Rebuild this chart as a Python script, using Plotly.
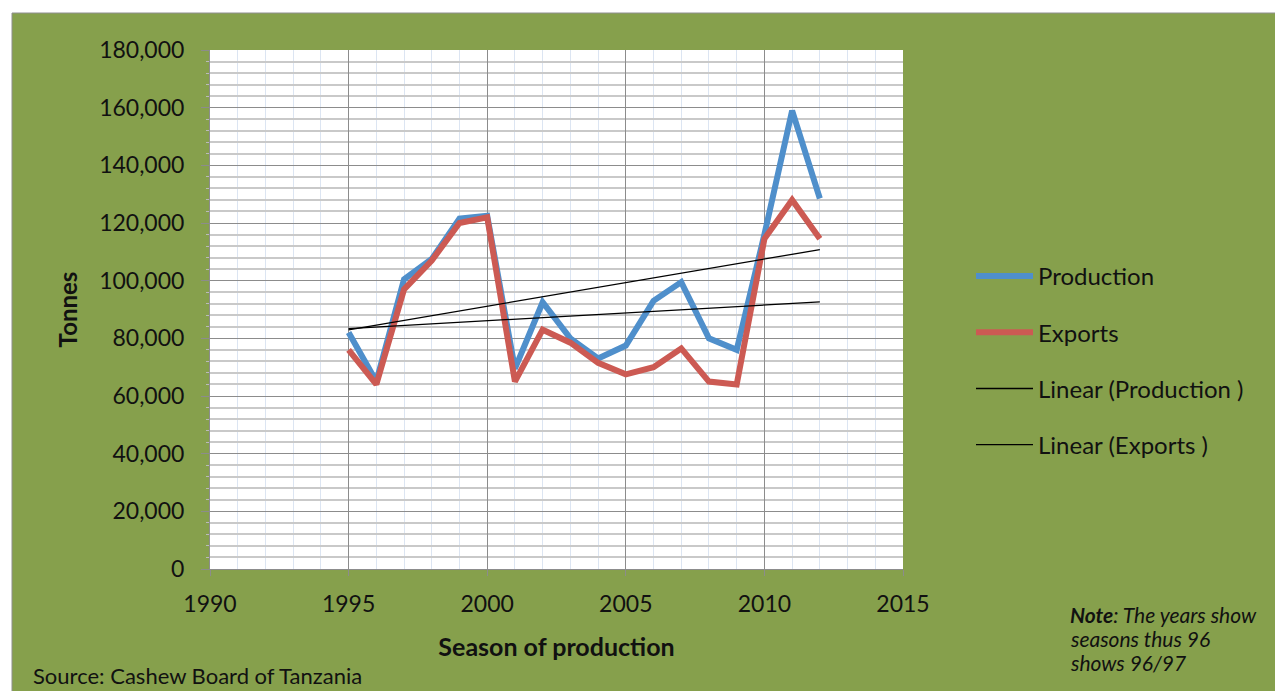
import numpy as np
import plotly.graph_objects as go

years = [1995, 1996, 1997, 1998, 1999, 2000, 2001, 2002, 2003, 2004, 2005,
         2006, 2007, 2008, 2009, 2010, 2011, 2012]
production = [82000, 65000, 100500, 107500, 121500, 122500, 69500, 92500, 80000,
              73000, 77500, 93000, 99500, 80000, 76000, 116000, 159000, 128500]
exports = [76000, 64000, 97000, 107000, 120000, 122000, 65000, 83000, 78500,
           71500, 67500, 70000, 76500, 65000, 64000, 114500, 128000, 114500]

x_range = [1990, 2015]
y_range = [0, 180000]

note_lines = ["<b><i>Note</i></b><i>: The years show</i>",
              "<i>seasons thus 96</i>",
              "<i>shows 96/97</i>"]

FONT = "Lato"
GREEN = "#86A04C"
BLUE = "#4F8FCB"
RED = "#CC5A53"

OFF = 8  # page body margin
W, H = 1283 - OFF, 691 - OFF
L, T = 210 - OFF, 50 - OFF
R, B = W - (903 - OFF), H - (569 - OFF)
pw, ph = W - L - R, H - T - B


def px_x(x):
    return (x - OFF - L) / pw


def px_y(y):
    return (H - B - (y - OFF)) / ph


yr = np.array(years, dtype=float)
pfit = np.polyfit(yr, np.array(production, dtype=float), 1)
efit = np.polyfit(yr, np.array(exports, dtype=float), 1)
trend_x = [years[0], years[-1]]

fig = go.Figure()
fig.add_trace(go.Scatter(x=years, y=production, mode="lines", name="Production",
                         line=dict(color=BLUE, width=6), legendgroup="a"))
fig.add_trace(go.Scatter(x=years, y=exports, mode="lines", name="Exports",
                         line=dict(color=RED, width=6), legendgroup="b"))
fig.add_trace(go.Scatter(x=trend_x, y=list(np.polyval(pfit, trend_x)), mode="lines",
                         name="Linear (Production )", line=dict(color="black", width=1.3),
                         legendgroup="c"))
fig.add_trace(go.Scatter(x=trend_x, y=list(np.polyval(efit, trend_x)), mode="lines",
                         name="Linear (Exports )", line=dict(color="black", width=1.3),
                         legendgroup="d"))

# white strips at top and left of the green panel
fig.add_shape(type="rect", xref="paper", yref="paper", layer="below",
              x0=px_x(0), x1=px_x(1290), y0=px_y(13), y1=px_y(-5),
              fillcolor="white", line=dict(width=0))
fig.add_shape(type="rect", xref="paper", yref="paper", layer="below",
              x0=px_x(-5), x1=px_x(12), y0=px_y(700), y1=px_y(0),
              fillcolor="white", line=dict(width=0))
fig.add_shape(type="line", xref="paper", yref="paper", layer="below",
              x0=px_x(12), x1=px_x(1290), y0=px_y(13), y1=px_y(13),
              line=dict(color="#8E8E8E", width=1))
fig.add_shape(type="line", xref="paper", yref="paper", layer="below",
              x0=px_x(12), x1=px_x(12), y0=px_y(700), y1=px_y(13),
              line=dict(color="#8E8E8E", width=1))

fig.update_layout(
    width=W, height=H,
    margin=dict(l=L, r=R, t=T, b=B, pad=0),
    paper_bgcolor=GREEN,
    plot_bgcolor="white",
    font=dict(family=FONT, size=24, color="#111111"),
    showlegend=True,
    legend=dict(x=px_x(971), y=px_y(254), xanchor="left", yanchor="top",
                bgcolor="rgba(0,0,0,0)", font=dict(family=FONT, size=24),
                tracegroupgap=22, itemwidth=57),
    xaxis=dict(range=x_range, dtick=5, tick0=1990, showgrid=True,
               gridcolor="#8C8C8C", gridwidth=1, zeroline=False,
               showline=True, linecolor="#8C8C8C", linewidth=1,
               ticks="outside", ticklen=6, tickcolor="#8C8C8C",
               tickfont=dict(family=FONT, size=23),
               ticklabelstandoff=8,
               minor=dict(dtick=1, showgrid=True, gridcolor="#DCE5F2", gridwidth=1),
               title=dict(text="<b>Season of production</b>", standoff=22,
                          font=dict(family=FONT, size=25))),
    yaxis=dict(range=y_range, dtick=20000, showgrid=True,
               gridcolor="#8C8C8C", gridwidth=1, zeroline=False,
               showline=True, linecolor="#8C8C8C", linewidth=1,
               ticks="outside", ticklen=8, tickcolor="#8C8C8C",
               tickformat=",d", tickfont=dict(family=FONT, size=23),
               ticklabelstandoff=12,
               minor=dict(dtick=4000, showgrid=True, gridcolor="#C9C9C9", gridwidth=2,
                          ticks="outside", ticklen=3, tickcolor="#BBBBBB"),
               title=dict(text="<b>Tonnes</b>", standoff=14,
                          font=dict(family=FONT, size=24))),
)

fig.add_annotation(xref="paper", yref="paper", x=px_x(31), y=px_y(691),
                   xanchor="left", yanchor="bottom", showarrow=False,
                   text="Source: Cashew Board of Tanzania",
                   font=dict(family=FONT, size=22, color="#111111"))
for i, line in enumerate(note_lines):
    fig.add_annotation(xref="paper", yref="paper", x=px_x(1068), y=px_y(614 + 24 * i),
                       xanchor="left", yanchor="middle", showarrow=False, align="left",
                       text=line, font=dict(family=FONT, size=21, color="#111111"))

fig.write_html("out.html")
